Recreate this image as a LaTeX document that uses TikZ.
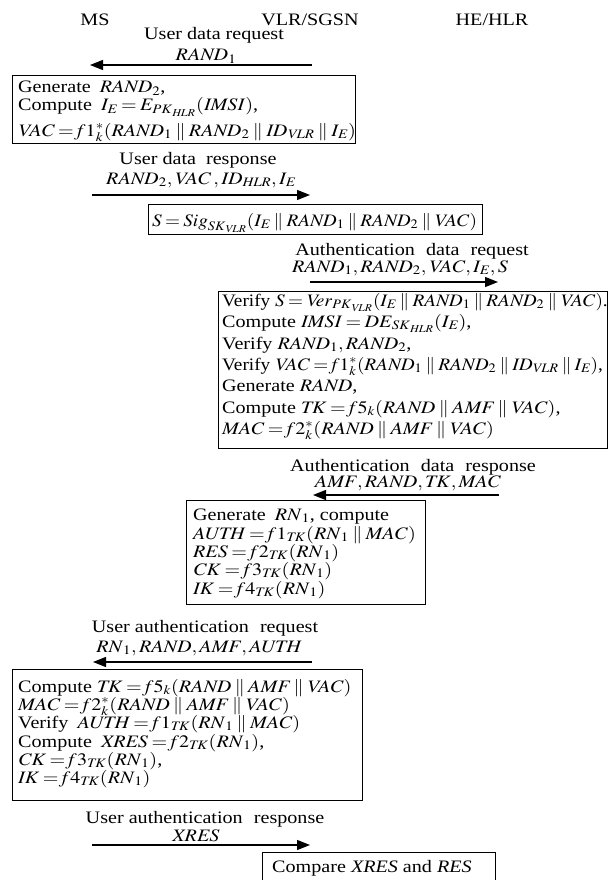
\documentclass[tikz,border=0pt]{standalone}
\usepackage{mathptmx}
\usepackage{fontspec}
\setmainfont{Liberation Serif}
\usepackage{graphicx}
\usetikzlibrary{arrows.meta}
\newcommand{\sx}[1]{\scalebox{1.15}[1]{#1}}
\newcommand{\sxn}[1]{\scalebox{1.1}[1]{#1}}
\newcommand{\pl}{\parallel}
\newcommand{\mi}[1]{\mathit{#1}}
\tikzset{
  txt/.style={inner sep=0pt, font=\fontsize{17.5}{19}\selectfont},
  lt/.style={txt, anchor=base west},
  ct/.style={txt, anchor=base},
  frame/.style={draw, line width=1.1pt, inner sep=0pt, anchor=north west},
  msg/.style={draw, line width=1.2pt, -{Triangle[length=13pt,width=10pt]}}
}
\begin{document}
\thickmuskip=3mu plus 1mu
\begin{tikzpicture}[x=1pt,y=-1pt]
\useasboundingbox (0,0) rectangle (608,880);
\clip (0,0) rectangle (608,880);
% headers
\node[ct] (hms) at (95,26) {\sx{MS}};
\node[ct] (hvlr) at (310,26) {\sx{VLR/SGSN}};
\node[ct] (hhe) at (492,26) {\sx{HE/HLR}};
% message 1
\node[ct] (m1t) at (214,40) {\sx{User data request}};
\node[ct] (m1d) at (206,61) {\sx{$\mi{RAND}_1$}};
\coordinate (m1a) at (312,65); \coordinate (m1b) at (90,65);
\draw[msg] (m1a) -- (m1b);
% box 1
\node[frame, minimum width=343pt, minimum height=68pt] (box1) at (12,75) {};
\node[lt] (b1a) at (18,93) {\sx{Generate\hspace{0.45em}$\mi{RAND}_2$,}};
\node[lt] (b1b) at (18,111) {\sx{Compute\hspace{0.45em}$\mi{I}_{\mi{E}} = \mi{E}_{\mi{PK}_{\mi{HLR}}}(\mi{IMSI})$,}};
\node[lt] (b1c) at (18,136) {\sx{$\mi{VAC} = \mi{f}1^*_{\mi{k}}(\mi{RAND}_1 \pl \mi{RAND}_2 \pl \mi{ID}_{\mi{VLR}} \pl \mi{I}_{\mi{E}})$}};
% message 2
\node[ct] (m2t) at (198,164) {\sx{User data\hspace{0.5em}response}};
\node[ct] (m2d) at (201,184) {\sx{$\mi{RAND}_2, \mi{VAC}\,, \mi{ID}_{\mi{HLR}}, \mi{I}_{\mi{E}}$}};
\coordinate (m2a) at (92,195); \coordinate (m2b) at (310,195);
\draw[msg] (m2a) -- (m2b);
% box 2
\node[frame, minimum width=334pt, minimum height=30pt] (box2) at (148,204) {};
\node[lt] (b2a) at (152,226) {\sxn{$\mi{S} = \mi{Sig}_{\mi{SK}_{\mi{VLR}}}(\mi{I}_{\mi{E}} \pl \mi{RAND}_1 \pl \mi{RAND}_2 \pl \mi{VAC})$}};
% message 3
\node[ct] (m3t) at (412,255) {\sx{Authentication\hspace{0.3em} data\hspace{0.3em} request}};
\node[ct] (m3d) at (400,272) {\sx{$\mi{RAND}_1, \mi{RAND}_2, \mi{VAC}, \mi{I}_{\mi{E}}, \mi{S}$}};
\coordinate (m3a) at (310,282); \coordinate (m3b) at (498,282);
\draw[msg] (m3a) -- (m3b);
% box 3
\node[frame, minimum width=389pt, minimum height=157pt] (box3) at (218,291) {};
\node[lt] (b3a) at (222,306) {\sxn{Verify $\mi{S} = \mi{Ver}_{\mi{PK}_{\mi{VLR}}}(\mi{I}_{\mi{E}} \pl \mi{RAND}_1 \pl \mi{RAND}_2 \pl \mi{VAC})$.}};
\node[lt] (b3b) at (222,327) {\sx{Compute $\mi{IMSI} = \mi{DE}_{\mi{SK}_{\mi{HLR}}}(\mi{I}_{\mi{E}})$,}};
\node[lt] (b3c) at (222,349) {\sx{Verify $\mi{RAND}_1, \mi{RAND}_2$,}};
\node[lt] (b3d) at (222,370) {\sxn{Verify $\mi{VAC} = \mi{f}1^*_{\mi{k}}(\mi{RAND}_1 \pl \mi{RAND}_2 \pl \mi{ID}_{\mi{VLR}} \pl \mi{I}_{\mi{E}})$,}};
\node[lt] (b3e) at (222,391) {\sx{Generate $\mi{RAND}$,}};
\node[lt] (b3f) at (222,413) {\sx{Compute $\mi{TK} = \mi{f}5_{\mi{k}}(\mi{RAND} \pl \mi{AMF} \pl \mi{VAC})$,}};
\node[lt] (b3g) at (222,434) {\sx{$\mi{MAC} = \mi{f}2^*_{\mi{k}}(\mi{RAND} \pl \mi{AMF} \pl \mi{VAC})$}};
% message 4
\node[ct] (m4t) at (413,471) {\sx{Authentication\hspace{0.3em} data\hspace{0.3em} response}};
\node[ct] (m4d) at (408,487) {\sx{$\mi{AMF}, \mi{RAND}, \mi{TK}, \mi{MAC}$}};
\coordinate (m4a) at (499,495); \coordinate (m4b) at (313,495);
\draw[msg] (m4a) -- (m4b);
% box 4
\node[frame, minimum width=239pt, minimum height=104pt] (box4) at (186,500) {};
\node[lt] (b4a) at (193,520) {\sx{Generate\hspace{0.45em}$\mi{RN}_1$, compute}};
\node[lt] (b4b) at (193,539) {\sx{$\mi{AUTH} = \mi{f}1_{\mi{TK}}(\mi{RN}_1 \pl \mi{MAC})$}};
\node[lt] (b4c) at (193,557) {\sx{$\mi{RES} = \mi{f}2_{\mi{TK}}(\mi{RN}_1)$}};
\node[lt] (b4d) at (193,575) {\sx{$\mi{CK} = \mi{f}3_{\mi{TK}}(\mi{RN}_1)$}};
\node[lt] (b4e) at (193,594) {\sx{$\mi{IK} = \mi{f}4_{\mi{TK}}(\mi{RN}_1)$}};
% message 5
\node[ct] (m5t) at (205,632) {\sx{User authentication\hspace{0.3em} request}};
\node[ct] (m5d) at (199,652) {\sx{$\mi{RN}_1, \mi{RAND}, \mi{AMF}, \mi{AUTH}$}};
\coordinate (m5a) at (312,662); \coordinate (m5b) at (93,662);
\draw[msg] (m5a) -- (m5b);
% box 5
\node[frame, minimum width=350pt, minimum height=131pt] (box5) at (12,669) {};
\node[lt] (b5a) at (18,692) {\sx{Compute $\mi{TK} = \mi{f}5_{\mi{k}}(\mi{RAND} \pl \mi{AMF} \pl \mi{VAC})$}};
\node[lt] (b5b) at (18,710) {\sx{$\mi{MAC} = \mi{f}2^*_{\mi{k}}(\mi{RAND} \pl \mi{AMF} \pl \mi{VAC})$}};
\node[lt] (b5c) at (18,728) {\sx{Verify\hspace{0.45em}$\mi{AUTH} = \mi{f}1_{\mi{TK}}(\mi{RN}_1 \pl \mi{MAC})$}};
\node[lt] (b5d) at (18,747) {\sx{Compute\hspace{0.45em}$\mi{XRES} = \mi{f}2_{\mi{TK}}(\mi{RN}_1)$,}};
\node[lt] (b5e) at (18,765) {\sx{$\mi{CK} = \mi{f}3_{\mi{TK}}(\mi{RN}_1)$,}};
\node[lt] (b5f) at (18,783) {\sx{$\mi{IK} = \mi{f}4_{\mi{TK}}(\mi{RN}_1)$}};
% message 6
\node[ct] (m6t) at (205,823) {\sx{User authentication\hspace{0.3em} response}};
\node[ct] (m6d) at (196,841) {\sx{$\mi{XRES}$}};
\coordinate (m6a) at (92,845); \coordinate (m6b) at (310,845);
\draw[msg] (m6a) -- (m6b);
% box 6
\node[frame, minimum width=233pt, minimum height=40pt] (box6) at (262,852) {};
\node[lt] (b6a) at (272,872) {\sx{Compare \textit{XRES} and \textit{RES}}};
\end{tikzpicture}
\end{document}
